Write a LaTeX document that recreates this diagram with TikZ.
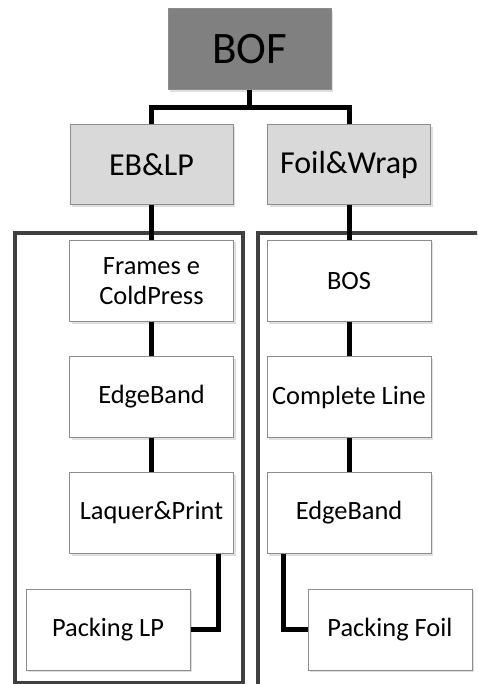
\documentclass[tikz,border=0pt]{standalone}
\usepackage{fontspec}
\setmainfont{Carlito}
\usepackage{tikz}
\usetikzlibrary{shapes,positioning,calc,shadows}
\definecolor{boxline}{HTML}{8C8C8C}
\definecolor{framegray}{HTML}{404040}

\begin{document}
\begin{tikzpicture}[x=1pt, y=-1pt,
  topbox/.style={draw=boxline, line width=1pt, fill=black!50, minimum width=163pt, minimum height=81pt, font=\fontsize{45}{54}\selectfont, drop shadow={opacity=0.25, shadow xshift=2pt, shadow yshift=-2pt}},
  groupbox/.style={draw=boxline, line width=1pt, fill=black!15, minimum width=163pt, minimum height=80pt, font=\fontsize{32}{38}\selectfont, drop shadow={opacity=0.25, shadow xshift=2pt, shadow yshift=-2pt}},
  unitbox/.style={draw=boxline, line width=1pt, fill=white, minimum width=164pt, minimum height=81pt, align=center, font=\fontsize{26.4}{30.5}\selectfont, drop shadow={opacity=0.25, shadow xshift=2pt, shadow yshift=-2pt}},
  link/.style={line width=5pt, black},
  frame/.style={line width=4pt, framegray}]
  \clip (0,0) rectangle (477,684);

  % department frames
  \draw[frame] (15,233) rectangle (243,683);
  \draw[frame] (258,233) rectangle (500,720);

  \node[topbox] (bof) at (249.5,49.5) {BOF};

  \node[groupbox] (eblp) at (151.5,165) {EB\&LP};
  \node[groupbox] (foil) at (349,165) {Foil\&Wrap};

  % EB&LP line
  \node[unitbox] (frames) at (151.5,281) {Frames e\\ColdPress};
  \node[unitbox] (edgel) at (151.5,397) {EdgeBand};
  \node[unitbox] (laquer) at (151.5,513) {Laquer\&Print};
  \node[unitbox] (packlp) at (108,629.5) {Packing LP};

  % Foil&Wrap line
  \node[unitbox] (bos) at (349,281) {BOS};
  \node[unitbox] (complete) at (349,397) {Complete Line};
  \node[unitbox] (edger) at (349,513) {EdgeBand};
  \node[unitbox] (packfoil) at (390,629.5) {Packing Foil};

  \draw[link] (bof.south) -- ++(0,17) -| (eblp.north);
  \draw[link] (bof.south) -- ++(0,17) -| (foil.north);

  \draw[link] (eblp) -- (frames);
  \draw[link] (frames) -- (edgel);
  \draw[link] (edgel) -- (laquer);
  \draw[link] ([xshift=-16pt]laquer.south east) |- (packlp.east);

  \draw[link] (foil) -- (bos);
  \draw[link] (bos) -- (complete);
  \draw[link] (complete) -- (edger);
  \draw[link] ([xshift=17pt]edger.south west) |- (packfoil.west);
\end{tikzpicture}
\end{document}
